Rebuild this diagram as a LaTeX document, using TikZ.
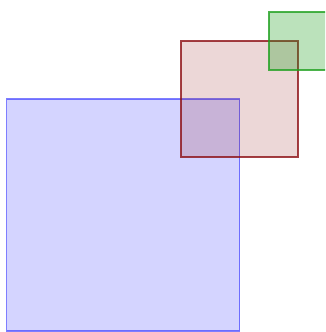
\documentclass[tikz,border=0pt]{standalone}
\usepackage{tikz}
\definecolor{myblue}{RGB}{40,40,255}
\definecolor{myred}{RGB}{140,15,20}
\definecolor{mygreen}{RGB}{30,160,30}
\tikzset{
  bluesq/.style={draw=myblue, draw opacity=0.6, fill=myblue, fill opacity=0.2, line width=1.7pt},
  redsq/.style={draw=myred, draw opacity=0.8, fill=myred, fill opacity=0.17, line width=1.7pt},
  greensq/.style={draw=mygreen, draw opacity=0.8, fill=mygreen, fill opacity=0.3, line width=1.7pt}
}
\begin{document}
\begin{tikzpicture}[x=1pt, y=-1pt]
  \useasboundingbox (0,0) rectangle (325,332);
  \clip (0,0) rectangle (325,332);
  % squares, back to front
  \draw[bluesq] (6.5,99) rectangle (239.5,331);
  \draw[redsq] (181,41.3) rectangle (297.7,156.7);
  \draw[greensq] (268.7,12.3) rectangle (326.7,70);
\end{tikzpicture}
\end{document}
